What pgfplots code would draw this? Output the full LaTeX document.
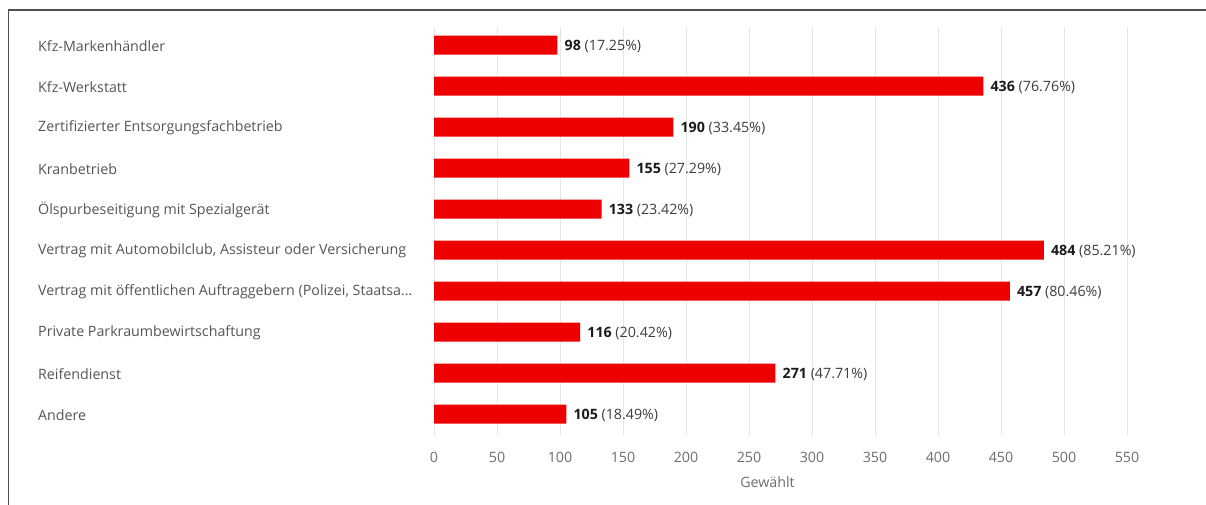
\documentclass[border=0pt]{standalone}
\usepackage{pgfplots}
\pgfplotsset{compat=1.18}
\usepackage{pgfplotstable}
\usepackage{fontspec}
\setmainfont{Open Sans}

\definecolor{barred}{RGB}{238,0,0}
\definecolor{gridc}{RGB}{230,230,230}
\definecolor{labc}{RGB}{85,85,85}
\definecolor{tickc}{RGB}{110,110,110}
\definecolor{valc}{RGB}{26,26,26}
\definecolor{pctc}{RGB}{60,60,60}
\definecolor{framec}{RGB}{80,80,80}

\newcommand\chartfont{\fontsize{14.3}{17}\selectfont}

% bottom to top
\pgfplotstableread{
idx val pct
0 105 18.49
1 271 47.71
2 116 20.42
3 457 80.46
4 484 85.21
5 133 23.42
6 155 27.29
7 190 33.45
8 436 76.76
9 98 17.25
}\datatable

\begin{document}
\begin{tikzpicture}[x=1bp,y=1bp]
\path[use as bounding box] (0,0) rectangle (1206,505);
\draw[framec, line width=1.3bp] (8.5,0) -- (8.5,495) -- (1206,495);
\begin{axis}[
    at={(434bp,70bp)}, anchor=south west,
    scale only axis,
    width=693bp, height=408bp,
    xmin=0, xmax=550,
    ymin=-0.51, ymax=9.44,
    xtick={0,50,...,550},
    ytick={0,...,9},
    yticklabels={Andere, Reifendienst, Private Parkraumbewirtschaftung,
        {Vertrag mit öffentlichen Auftraggebern (Polizei, Staatsa…},
        {Vertrag mit Automobilclub, Assisteur oder Versicherung},
        Ölspurbeseitigung mit Spezialgerät, Kranbetrieb,
        Zertifizierter Entsorgungsfachbetrieb, Kfz-Werkstatt, Kfz-Markenhändler},
    axis line style={draw=none},
    major tick length=0pt,
    xmajorgrids=true,
    ymajorgrids=false,
    major grid style={draw=gridc, line width=1bp},
    /pgf/number format/assume math mode=true,
    tick label style={font=\chartfont},
    yticklabel style={anchor=west, inner sep=0pt, xshift=-396bp, yshift=-1bp, text=labc},
    xticklabel style={anchor=north, inner sep=0pt, yshift=-17bp, text=tickc},
    xlabel={Gewählt},
    xlabel style={at={(axis description cs:0.5,0)}, anchor=north, inner sep=0pt,
        yshift=-41bp, xshift=-13bp, text=tickc, font=\chartfont},
    scaled x ticks=false,
]
\addplot[
    xbar, bar width=19bp, fill=barred, draw=none,
    point meta=explicit symbolic,
    visualization depends on={x \as \vval},
    nodes near coords={\textcolor{valc}{\bfseries\pgfmathprintnumber[fixed,precision=0]{\vval}} \textcolor{pctc}{(\pgfplotspointmeta\%)}},
    nodes near coords style={anchor=west, inner sep=0pt, xshift=7bp, yshift=-1bp, font=\chartfont},
] table[x=val, y=idx, meta=pct] {\datatable};
\end{axis}
\end{tikzpicture}
\end{document}
